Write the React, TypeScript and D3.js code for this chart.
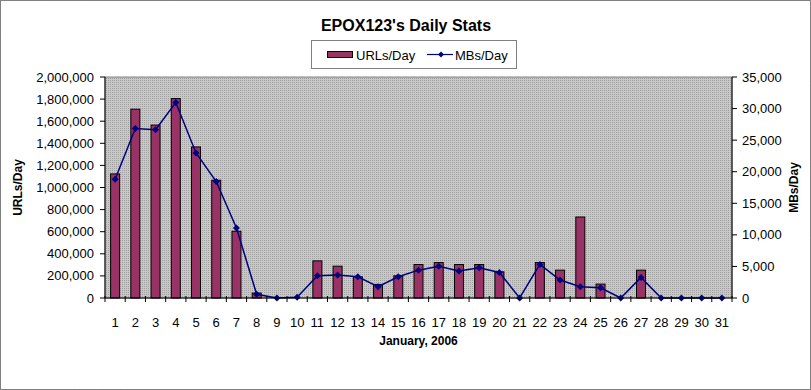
import * as d3 from "d3";

const days = d3.range(1, 32).map(String);
const urlsPerDay = [
  1123000, 1709000, 1565000, 1805000, 1367000, 1066000, 604000, 45000, 0, 0,
  336000, 288000, 192000, 123000, 201000, 303000, 321000, 303000, 303000, 237000,
  0, 321000, 252000, 733000, 126000, 0, 252000, 0, 0, 0, 0,
];
const mbsPerDay = [
  18810, 26850, 26640, 30950, 22970, 18450, 11090, 580, 0, 100,
  3520, 3630, 3360, 1790, 3360, 4410, 5040, 4260, 4780, 4050,
  0, 5310, 2840, 1790, 1630, 0, 3260, 0, 0, 0, 0,
];
const leftTicks = d3.range(0, 2000001, 200000);
const rightTicks = d3.range(0, 35001, 5000);

const W = 811;
const H = 390;
const plot = { left: 105, right: 732, top: 77, bottom: 298 };
const font = "Liberation Sans, Arial, sans-serif";

export default function App() {
  const x = d3.scaleBand().domain(days).range([plot.left, plot.right]);
  const yL = d3.scaleLinear().domain([0, 2000000]).range([plot.bottom, plot.top]);
  const yR = d3.scaleLinear().domain([0, 35000]).range([plot.bottom, plot.top]);
  const fmt = d3.format(",");
  const barW = 9;
  const line = d3
    .line<number>()
    .x((_, i) => x(days[i])! + x.bandwidth() / 2)
    .y((d) => yR(d));
  const diamond = (cx: number, cy: number, r = 3.5) =>
    `M${cx},${cy - r}L${cx + r},${cy}L${cx},${cy + r}L${cx - r},${cy}Z`;
  const midY = (plot.top + plot.bottom) / 2;

  return (
    <svg
      width={W}
      height={H}
      style={{ position: "absolute", left: 0, top: 0 }}
      fontFamily={font}
    >
      <defs>
        <pattern id="dots" width={2} height={2} patternUnits="userSpaceOnUse">
          <rect width={2} height={2} fill="#c8c8c8" />
          <rect width={1} height={1} fill="#a0a0a0" />
        </pattern>
      </defs>
      <rect x={0} y={0} width={W} height={H} fill="#fff" />
      <rect
        x={0.5}
        y={0.5}
        width={W - 1}
        height={H - 1}
        fill="none"
        stroke="#000"
        strokeDasharray="1,1"
      />
      <text x={406} y={31} textAnchor="middle" fontSize={16} fontWeight="bold">
        EPOX123's Daily Stats
      </text>

      {/* legend */}
      <g>
        <rect x={311.5} y={40.5} width={205} height={28} fill="#fff" stroke="#808080" />
        <rect x={327.5} y={51.5} width={25} height={6} fill="#993366" stroke="#000" />
        <text x={356} y={60} fontSize={13}>URLs/Day</text>
        <line x1={427} x2={453} y1={54.5} y2={54.5} stroke="#000080" strokeWidth={1.2} />
        <path d={diamond(441, 54.5, 3)} fill="#000080" />
        <text x={455} y={60} fontSize={13}>MBs/Day</text>
      </g>

      {/* plot area */}
      <rect
        x={plot.left}
        y={plot.top}
        width={plot.right - plot.left}
        height={plot.bottom - plot.top}
        fill="url(#dots)"
        stroke="#808080"
      />

      {urlsPerDay.map((v, i) =>
        v > 0 ? (
          <rect
            key={i}
            x={x(days[i])! + (x.bandwidth() - barW) / 2}
            y={yL(v)}
            width={barW}
            height={plot.bottom - yL(v)}
            fill="#993366"
            stroke="#000"
          />
        ) : null
      )}

      <path d={line(mbsPerDay)!} fill="none" stroke="#000080" strokeWidth={1.5} />
      {mbsPerDay.map((v, i) => (
        <path key={i} d={diamond(x(days[i])! + x.bandwidth() / 2, yR(v))} fill="#000080" />
      ))}

      {/* axes */}
      <line x1={plot.left} x2={plot.left} y1={plot.top} y2={plot.bottom} stroke="#000" />
      <line x1={plot.right} x2={plot.right} y1={plot.top} y2={plot.bottom} stroke="#000" />
      <line x1={plot.left} x2={plot.right} y1={plot.bottom} y2={plot.bottom} stroke="#000" />

      {leftTicks.map((t) => (
        <g key={t}>
          <line x1={plot.left - 5} x2={plot.left} y1={yL(t)} y2={yL(t)} stroke="#000" />
          <text x={plot.left - 11} y={yL(t) + 4.5} textAnchor="end" fontSize={13}>
            {fmt(t)}
          </text>
        </g>
      ))}
      {rightTicks.map((t) => (
        <g key={t}>
          <line x1={plot.right} x2={plot.right + 5} y1={yR(t)} y2={yR(t)} stroke="#000" />
          <text x={plot.right + 10} y={yR(t) + 4.5} textAnchor="start" fontSize={13}>
            {fmt(t)}
          </text>
        </g>
      ))}

      {days.map((d, i) => (
        <g key={d}>
          <line
            x1={x(d)!}
            x2={x(d)!}
            y1={plot.bottom - 2}
            y2={plot.bottom + 4}
            stroke="#000"
          />
          <text
            x={x(d)! + x.bandwidth() / 2}
            y={327}
            textAnchor="middle"
            fontSize={13}
          >
            {d}
          </text>
          {i === days.length - 1 && (
            <line
              x1={plot.right}
              x2={plot.right}
              y1={plot.bottom - 2}
              y2={plot.bottom + 4}
              stroke="#000"
            />
          )}
        </g>
      ))}

      <text x={(plot.left + plot.right) / 2} y={345} textAnchor="middle" fontSize={12} fontWeight="bold">
        January, 2006
      </text>
      <text
        transform={`translate(22,${midY}) rotate(-90)`}
        textAnchor="middle"
        fontSize={12}
        fontWeight="bold"
      >
        URLs/Day
      </text>
      <text
        transform={`translate(798,${midY}) rotate(-90)`}
        textAnchor="middle"
        fontSize={12}
        fontWeight="bold"
      >
        MBs/Day
      </text>
    </svg>
  );
}
